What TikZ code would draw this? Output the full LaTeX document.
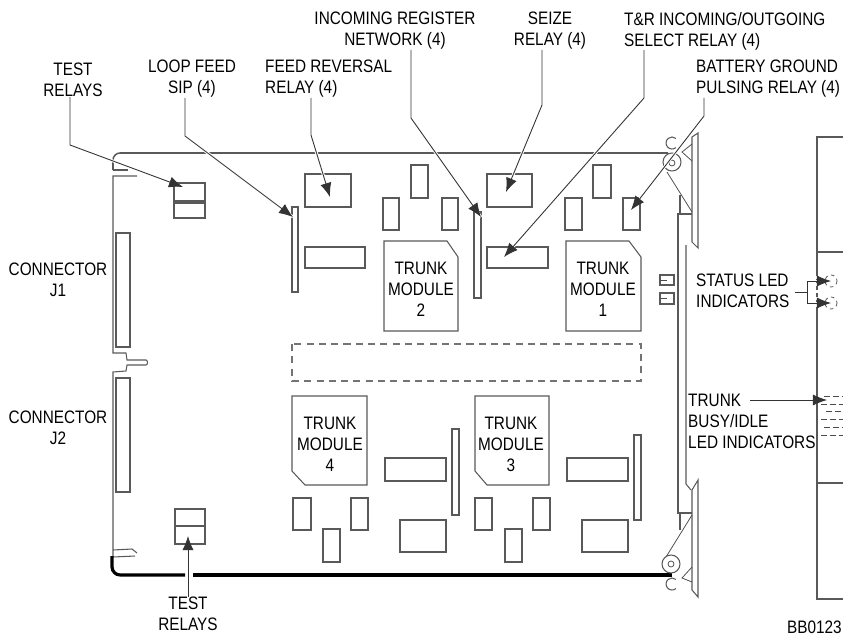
\documentclass[tikz,border=0pt]{standalone}
\usepackage{fontspec}
\setmainfont[FakeStretch=0.85]{Liberation Sans}
\usetikzlibrary{arrows.meta}
\tikzset{
    part/.style={draw=black!65, line width=0.9pt},
    thin part/.style={draw=black!70, line width=0.65pt},
    leader/.style={draw=black!80, line width=0.75pt, preaction={draw=white, line width=2.4pt, -},
        -{Latex[length=12pt,width=9.5pt]}},
    label/.style={inner sep=0pt, text=black, align=center, font=\fontsize{15.4}{18}\selectfont},
    left label/.style={label, align=left}
}
\begin{document}
\begin{tikzpicture}[x=0.03cm,y=-0.03cm]
\useasboundingbox (0,0) rectangle (843,636);
\clip (0,0) rectangle (843,636);

% ===== Board outline =====
\draw[part, line width=1.3pt, rounded corners=6pt] (113,170) -- (113,153) -- (668,153);
\draw[part] (113,170) -- (128,170);
\draw[part] (137,176) -- (113,176) -- (113,353) -- (126,353) -- (127,360) -- (146,360)
    to[out=0,in=0] (146,365) -- (127,365) -- (126,371) -- (113,372) -- (113,556);
\draw[part] (113,550) -- (132,549) -- (137,553);
\draw[part] (113,557) -- (135,556);
\draw[line width=2.7pt, rounded corners=7pt] (112,556) -- (112,575) -- (185,575);
\draw[line width=2.7pt] (193,575) -- (672,575);

% ===== Connectors J1, J2 =====
\foreach \x/\y/\w/\h in {116/233/14/114, 116/378/14/114} {
    \draw[part] (\x,\y) rectangle ++(\w,\h);
}

% ===== Relays, SIPs and other parts =====
\foreach \x/\y/\w/\h in {
    174/183/31/18, 174/203/31/15, 175/509/30/17, 175/526/30/18,
    305/174/46/33, 292/207/6/85, 305/247/60/21,
    383/198/16/32, 411/165/17/33, 442/198/16/32, 474/212/7/86,
    487/174/45/33, 487/247/61/21, 593/165/18/33, 565/198/17/32, 623/198/17/32,
    385/458/61/23, 452/429/7/86, 567/458/61/23, 634/435/7/85,
    293/498/18/32, 351/498/17/32, 323/529/17/33, 400/520/46/32,
    475/498/17/32, 533/498/17/32, 505/529/17/33, 582/520/46/32,
    660/275/14/10, 660/293/14/11} {
    \draw[part] (\x,\y) rectangle ++(\w,\h);
}
\draw[thin part] (660,280) -- (667,280);
\draw[thin part] (660,298) -- (667,298);

% ===== Trunk modules =====
\draw[part] (384,241) -- (447,241) -- (458,257) -- (458,331) -- (384,331) -- cycle;
\draw[part] (566,241) -- (629,241) -- (641,257) -- (641,331) -- (566,331) -- cycle;
\draw[part] (292,396) -- (367,396) -- (367,485) -- (305,485) -- (292,471) -- cycle;
\draw[part] (475,396) -- (549,396) -- (549,485) -- (487,485) -- (475,471) -- cycle;
\node[label] (moduletwo) at (421,289) {TRUNK\\MODULE\\2};
\node[label] (moduleone) at (603,289) {TRUNK\\MODULE\\1};
\node[label] (modulefour) at (330,444) {TRUNK\\MODULE\\4};
\node[label] (modulethree) at (511,444) {TRUNK\\MODULE\\3};

% ===== Dashed outline =====
\draw[part, draw=black!55, line width=1.1pt, dash pattern=on 6pt off 4.5pt] (292,344) rectangle (641,381);

% ===== Stiffener and ejector latches =====
\draw[part] (680,195) -- (680,214);
\draw[part] (692,214) -- (678,214) -- (678,513) -- (692,513);
\draw[part] (680,513) -- (680,530);
\draw[part] (686,245) -- (686,484) -- (691,490);
\draw[part] (692,137) -- (698,133) -- (698,248) -- (692,242) -- cycle;
\draw[part] (692,490) -- (698,480) -- (698,597) -- (692,590) -- cycle;
\draw[thin part] (692,144) -- (682,152) -- (692,161);
\draw[thin part] (692,567) -- (682,578) -- (692,582);
\draw[thin part] (667,172) -- (692,212);
\draw[thin part] (692,515) -- (666,557);
\draw[part] (672,162) circle (9);
\draw[thin part] (672,163) circle (3);
\draw[part] (671,564) circle (9);
\draw[thin part] (671,564) circle (3);
\draw[part] (675.9,147.6) arc (50:310:6);
\draw[part] (675.9,588.6) arc (50:310:6);

% ===== Right panel =====
\draw[part] (843,137) -- (817,137) -- (817,272);
\draw[part] (817,252) -- (843,252);
\draw[part, dashed] (817,272) -- (817,310);
\draw[part, line width=1.3pt] (817,310) -- (817,483);
\draw[part] (843,483) -- (817,483) -- (817,599) -- (843,599);
\draw[thin part, dash pattern=on 3pt off 3pt] (831,281) circle (6);
\draw[thin part, dash pattern=on 3pt off 3pt] (831,303) circle (6);
\foreach \y/\s in {396/824, 404/821, 411/826, 419/821, 427/824, 435/821} {
    \draw[thin part, dash pattern=on 5pt off 2.5pt] (\s,\y) -- (843,\y);
}

% ===== Labels =====
\node[label] (lbltest) at (73,80) {TEST\\RELAYS};
\node[label] (lblloop) at (192,79) {LOOP FEED\\SIP (4)};
\node[left label, anchor=west] (lblfeed) at (265,79) {FEED REVERSAL\\RELAY (4)};
\node[label] (lblregister) at (395,31) {INCOMING REGISTER\\NETWORK (4)};
\node[label] (lblseize) at (550,31) {SEIZE\\RELAY (4)};
\node[left label, anchor=west] (lblselect) at (624,31) {T\&R INCOMING/OUTGOING\\SELECT RELAY (4)};
\node[left label, anchor=west] (lblbattery) at (696,79) {BATTERY GROUND\\PULSING RELAY (4)};
\node[label] (lbljone) at (58,280) {CONNECTOR\\J1};
\node[label] (lbljtwo) at (58,428) {CONNECTOR\\J2};
\node[left label, anchor=west] (lblstatus) at (696,291) {STATUS LED\\INDICATORS};
\node[left label, anchor=west] (lblbusy) at (688,421) {TRUNK\\BUSY/IDLE\\LED INDICATORS};
\node[label] (lbltestb) at (188,614) {TEST\\RELAYS};
\node[label, anchor=east] (lblnumber) at (842,627) {BB0123};

% ===== Bends and ends of the leaders =====
\coordinate (testbend) at (70,145);
\coordinate (testtip) at (183,187);
\coordinate (loopbend) at (185,136);
\coordinate (looptip) at (293,217);
\coordinate (feedbend) at (311,135);
\coordinate (feedtip) at (330,197);
\coordinate (registerbend) at (411,118);
\coordinate (registertip) at (481,217);
\coordinate (seizebend) at (542,105);
\coordinate (seizetip) at (506,192);
\coordinate (selectbend) at (644,98);
\coordinate (selecttip) at (504,257);
\coordinate (batterybend) at (704,116);
\coordinate (batterytip) at (631,210);
\coordinate (testbtip) at (188,536);
\coordinate (statusfork) at (807,292);
\coordinate (statusleda) at (831,281);
\coordinate (statusledb) at (831,303);
\coordinate (busystart) at (750,400);
\coordinate (busytip) at (827,400);

% ===== Leaders =====
\draw[leader] (lbltest.south -| testbend) -- (testbend) -- (testtip);
\draw[leader] (lblloop.south -| loopbend) -- (loopbend) -- (looptip);
\draw[leader] (lblfeed.south -| feedbend) -- (feedbend) -- (feedtip);
\draw[leader] (lblregister.south -| registerbend) -- (registerbend) -- (registertip);
\draw[leader] (lblseize.south -| seizebend) -- (seizebend) -- (seizetip);
\draw[leader] (lblselect.south -| selectbend) -- (selectbend) -- (selecttip);
\draw[leader] (lblbattery.south -| batterybend) -- (batterybend) -- (batterytip);
\draw[leader] (lbltestb.north) -- (testbtip);
\draw[leader] (statusfork) |- (statusleda);
\draw[leader] (statusfork) |- (statusledb);
\draw[leader, -] ([xshift=5]lblstatus.east |- statusfork) -- (statusfork);
\draw[leader] (busystart) -- (busytip);

\end{tikzpicture}
\end{document}
